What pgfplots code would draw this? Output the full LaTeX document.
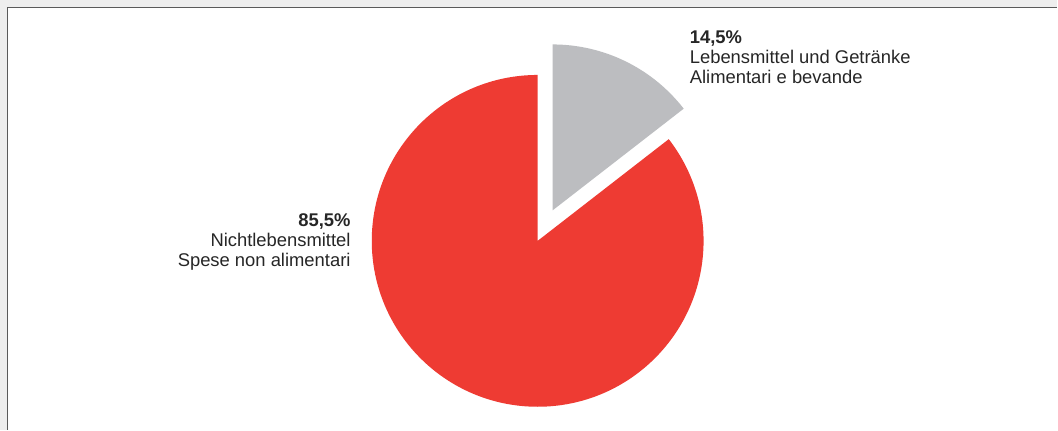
\documentclass[border=0pt]{standalone}
\usepackage{pgfplots}
\pgfplotsset{compat=1.18}
\usepackage{pgfplotstable}
\usepackage{fontspec}
\setmainfont{Liberation Sans}

\definecolor{nonfood}{HTML}{EE3B33}
\definecolor{food}{HTML}{BCBDC0}
\definecolor{bggray}{HTML}{EEEEEE}
\definecolor{framegray}{HTML}{5A5A5A}

% shares in percent
\pgfplotstableread{
share
85.5
14.5
}\shares

\begin{document}
\begin{tikzpicture}
\pgfplotstablegetelem{1}{share}\of\shares
\pgfmathsetmacro\cut{90-3.6*\pgfplotsretval}
\pgfmathsetmacro\mid{90-1.8*\pgfplotsretval}
\def\rad{124.5pt}
\begin{axis}[
    x=0.75pt, y=0.75pt, y dir=reverse,
    xmin=0, xmax=1058, ymin=0, ymax=430,
    hide axis, clip=false,
    anchor=origin, at={(0,0)},
]
% background and frame
\fill[bggray] (axis cs:0,0) rectangle (axis cs:1058,430);
\fill[white] (axis cs:7,7) rectangle (axis cs:1058,430);
\draw[framegray, line width=1pt] (axis cs:7.5,430) -- (axis cs:7.5,7.5) -- (axis cs:1058,7.5);

% pie
\fill[nonfood] (axis cs:538,241) -- ++(90:\rad)
    arc[start angle=90, end angle=360+\cut, radius=\rad] -- cycle;
\fill[food] (axis cs:538,241) ++(\mid:25.5pt) -- ++(\cut:\rad)
    arc[start angle=\cut, end angle=90, radius=\rad] -- cycle;

% labels
\node[anchor=east, align=right, font=\fontsize{13.8}{15}\selectfont, text=black!85, inner sep=0pt]
    at (axis cs:351,242) {\textbf{85,5\%}\\Nichtlebensmittel\\Spese non alimentari};
\node[anchor=west, align=left, font=\fontsize{13.8}{15}\selectfont, text=black!85, inner sep=0pt]
    at (axis cs:690,57.5) {\textbf{14,5\%}\\Lebensmittel und Getränke\\Alimentari e bevande};
\end{axis}
\end{tikzpicture}
\end{document}
